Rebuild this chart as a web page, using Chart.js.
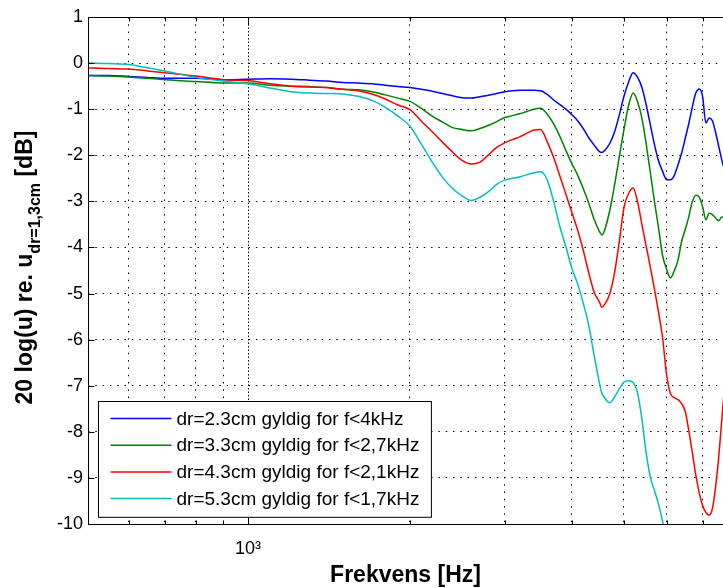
<!DOCTYPE html>
<html>
<head>
<meta charset="utf-8">
<script src="https://cdn.jsdelivr.net/npm/chart.js@4.4.0/dist/chart.umd.min.js"></script>
<style>
    html, body { margin: 0; padding: 0; background: #fff; }
    #boks { width: 723px; height: 588px; overflow: hidden; }
</style>
</head>
<body>
<div id="boks"><canvas id="graf" width="723" height="588"></canvas></div>
<script>
// frekvenser [Hz] og niveau [dB] for de fire afstande
const frekvenser = [504, 550, 600, 650, 700, 800, 900, 1000,
    1100, 1200, 1300, 1400, 1500, 1600, 1700, 1800, 1900, 2000,
    2100, 2200, 2300, 2400, 2500, 2600, 2700, 2800, 2900, 3000,
    3100, 3200, 3300, 3400, 3500, 3600, 3700, 3800, 3900, 4000,
    4100, 4200, 4300, 4400, 4500, 4550, 4600, 4700, 4800, 4900, 5000,
    5100, 5200, 5300, 5400, 5500, 5600, 5700, 5800, 5900, 6000,
    6100, 6200, 6300, 6400, 6500, 6600, 6700, 6800, 6900, 7000,
    7100, 7200, 7300, 7400, 7500, 7600, 7700];

const dr23 = [-0.27, -0.27, -0.29, -0.31, -0.33, -0.33, -0.36, -0.35,
    -0.34, -0.35, -0.37, -0.39, -0.42, -0.43, -0.45, -0.48, -0.51, -0.53,
    -0.57, -0.61, -0.66, -0.71, -0.75, -0.76, -0.73, -0.7, -0.66, -0.62,
    -0.6, -0.59, -0.59, -0.59, -0.6, -0.68, -0.8, -0.9, -1.0, -1.12,
    -1.25, -1.42, -1.62, -1.78, -1.92, -1.94, -1.9, -1.75, -1.5, -1.13, -0.72,
    -0.41, -0.21, -0.31, -0.53, -0.91, -1.35, -1.78, -2.13, -2.35, -2.53,
    -2.53, -2.44, -2.21, -1.95, -1.63, -1.31, -0.95, -0.65, -0.56, -0.72,
    -1.3, -1.19, -1.25, -1.5, -1.8, -2.1, -2.35];

const dr33 = [-0.27, -0.28, -0.3, -0.33, -0.36, -0.4, -0.43, -0.43,
    -0.48, -0.5, -0.51, -0.53, -0.57, -0.58, -0.62, -0.69, -0.76, -0.83,
    -0.98, -1.15, -1.28, -1.4, -1.44, -1.47, -1.42, -1.35, -1.27, -1.18,
    -1.14, -1.1, -1.05, -1.0, -0.98, -1.11, -1.32, -1.59, -1.9, -2.18,
    -2.43, -2.72, -3.04, -3.39, -3.65, -3.73, -3.63, -3.22, -2.66, -2.04, -1.44,
    -0.92, -0.65, -0.84, -1.2, -1.76, -2.39, -3.02, -3.59, -4.18, -4.47,
    -4.66, -4.51, -4.28, -3.87, -3.61, -3.33, -3.01, -2.87, -2.91, -3.11,
    -3.4, -3.26, -3.29, -3.36, -3.42, -3.34, -3.35];

const dr43 = [-0.1, -0.12, -0.13, -0.17, -0.21, -0.28, -0.36, -0.38,
    -0.45, -0.5, -0.52, -0.53, -0.57, -0.6, -0.67, -0.78, -0.91, -1.01,
    -1.26, -1.49, -1.72, -1.93, -2.11, -2.19, -2.15, -1.99, -1.83, -1.73,
    -1.66, -1.6, -1.52, -1.45, -1.44, -1.71, -2.05, -2.45, -2.85, -3.24,
    -3.62, -4.06, -4.55, -4.97, -5.18, -5.3, -5.24, -5.02, -4.56, -3.88, -3.13,
    -2.83, -2.71, -3.01, -3.51, -3.98, -4.44, -4.92, -5.42, -5.97, -6.76,
    -7.17, -7.26, -7.3, -7.39, -7.56, -7.98, -8.45, -8.94, -9.32, -9.6,
    -9.75, -9.81, -9.67, -9.2, -8.56, -7.74, -6.95];

// dr=5.3cm går under -10 dB efter ca. 6 kHz
const dr53 = [0.0, -0.01, -0.03, -0.1, -0.17, -0.31, -0.39, -0.45,
    -0.54, -0.62, -0.65, -0.66, -0.67, -0.72, -0.81, -0.96, -1.15, -1.37,
    -1.76, -2.15, -2.48, -2.72, -2.88, -2.98, -2.91, -2.79, -2.63, -2.54,
    -2.5, -2.47, -2.42, -2.38, -2.36, -2.54, -3.0, -3.55, -3.99, -4.45,
    -4.79, -5.21, -5.69, -6.34, -6.93, -7.17, -7.26, -7.37, -7.25, -7.07, -6.92,
    -6.89, -6.93, -7.16, -7.73, -8.47, -8.99, -9.28, -9.58, -9.95, -10.35,
    -10.7];

const etiketter = ['dr=2.3cm gyldig for f<4kHz', 'dr=3.3cm gyldig for f<2,7kHz',
    'dr=4.3cm gyldig for f<2,1kHz', 'dr=5.3cm gyldig for f<1,7kHz'];
const farver = ['rgb(0,0,255)', 'rgb(0,128,0)', 'rgb(255,0,0)', 'rgb(0,191,191)'];

const xGitter = [600, 700, 800, 900, 1000, 2000, 3000, 4000, 5000, 6000, 7000];
const yTicks = [-10, -9, -8, -7, -6, -5, -4, -3, -2, -1, 0, 1];

const skrift = '"Liberation Sans", Arial, Helvetica, sans-serif';
Chart.defaults.font.family = skrift;
Chart.defaults.color = '#000';

function punkter(serie) {
    const ud = [];
    for (let i = 0; i < serie.length; i++) {
        ud.push({ x: frekvenser[i], y: serie[i] });
    }
    return ud;
}

// y-aksens titel med subscript
const yTitel = {
    id: 'yTitel',
    afterDraw: (chart) => {
        const { ctx, chartArea } = chart;
        const stor = 'bold 23px ' + skrift;
        const lille = 'bold 16px ' + skrift;
        const dele = [['20 log(u) re. u', stor, 0], ['dr=1,3cm', lille, 8], [' [dB]', stor, 0]];
        ctx.save();
        let total = 0;
        const bredder = dele.map(d => { ctx.font = d[1]; const w = ctx.measureText(d[0]).width; total += w; return w; });
        ctx.translate(32, (chartArea.top + chartArea.bottom) / 2 - 3);
        ctx.rotate(-Math.PI / 2);
        ctx.fillStyle = '#000';
        ctx.textBaseline = 'alphabetic';
        let x = -total / 2;
        dele.forEach((d, i) => {
            ctx.font = d[1];
            ctx.fillText(d[0], x, d[2]);
            x += bredder[i];
        });
        ctx.restore();
    }
};

// ramme og indvendige tick-mærker
const ramme = {
    id: 'ramme',
    afterDraw: (chart) => {
        const { ctx, chartArea: a, scales } = chart;
        const L = Math.round(a.left) + 0.5;
        const T = Math.round(a.top) + 0.5;
        const B = Math.round(a.bottom) + 0.5;
        const R = a.right;
        ctx.save();
        ctx.strokeStyle = '#000';
        ctx.lineWidth = 1;
        ctx.beginPath();
        ctx.moveTo(R, T); ctx.lineTo(L, T); ctx.lineTo(L, B); ctx.lineTo(R, B);
        scales.y.ticks.forEach(t => {
            const py = Math.round(scales.y.getPixelForValue(t.value)) + 0.5;
            ctx.moveTo(L, py); ctx.lineTo(L + 6, py);
        });
        scales.x.ticks.forEach(t => {
            const px = Math.round(scales.x.getPixelForValue(t.value)) + 0.5;
            const len = t.value === 1000 ? 8 : 4;
            ctx.moveTo(px, B); ctx.lineTo(px, B - len);
            ctx.moveTo(px, T); ctx.lineTo(px, T + len);
        });
        ctx.stroke();
        ctx.restore();
    }
};

// forklaringsboks nederst til venstre
const forklaring = {
    id: 'forklaring',
    afterDraw: (chart) => {
        const { ctx, chartArea: a } = chart;
        const sets = chart.data.datasets;
        ctx.save();
        ctx.font = '19px ' + skrift;
        const tekstW = Math.max(...sets.map(d => ctx.measureText(d.label).width));
        const raekke = 26.7;
        const w = 78 + tekstW + 12;
        const h = sets.length * raekke + 9;
        const left = Math.round(a.left + 10) + 0.5;
        const top = Math.round(a.bottom - 7 - h) + 0.5;
        ctx.fillStyle = '#fff';
        ctx.fillRect(left, top, w, h);
        ctx.strokeStyle = '#000';
        ctx.lineWidth = 1;
        ctx.strokeRect(left, top, w, h);
        ctx.textBaseline = 'middle';
        sets.forEach((d, i) => {
            const cy = top + 17 + i * raekke;
            ctx.strokeStyle = d.borderColor;
            ctx.lineWidth = 1.5;
            ctx.beginPath();
            ctx.moveTo(left + 12, cy);
            ctx.lineTo(left + 73, cy);
            ctx.stroke();
            ctx.fillStyle = '#000';
            ctx.fillText(d.label, left + 78, cy + 1);
        });
        ctx.restore();
    }
};

const serier = [dr23, dr33, dr43, dr53];
const datasets = serier.map((s, i) => ({
    label: etiketter[i],
    data: punkter(s),
    borderColor: farver[i],
    backgroundColor: farver[i],
    borderWidth: 1.5,
    pointRadius: 0,
    cubicInterpolationMode: 'monotone',
    fill: false,
    order: serier.length - i
}));

const ctx = document.getElementById('graf').getContext('2d');
const graf = new Chart(ctx, {
    type: 'line',
    data: { datasets: datasets },
    options: {
        responsive: false,
        animation: false,
        events: [],
        layout: { padding: { top: 17, right: 0, bottom: 0, left: 0 } },
        plugins: {
            legend: { display: false },
            tooltip: { enabled: false }
        },
        scales: {
            x: {
                type: 'logarithmic',
                min: 504,
                max: 7640,
                afterBuildTicks: (s) => { s.ticks = xGitter.map(v => ({ value: v })); },
                afterFit: (s) => { s.height = 64; },
                grid: { color: '#000', lineWidth: 1, drawTicks: false },
                border: {
                    display: false,
                    dash: (c) => (c.tick && c.tick.value === 1000) ? [1.5, 2] : [1.5, 5.8]
                },
                ticks: {
                    autoSkip: false,
                    maxRotation: 0,
                    padding: 14,
                    color: '#000',
                    font: { size: 18 },
                    callback: (v) => v === 1000 ? '10³' : ''
                },
                title: {
                    display: true,
                    text: 'Frekvens [Hz]',
                    color: '#000',
                    font: { size: 23, weight: 'bold' },
                    padding: { top: 0, bottom: -1 }
                }
            },
            y: {
                min: -10,
                max: 1,
                afterBuildTicks: (s) => { s.ticks = yTicks.map(v => ({ value: v })); },
                afterFit: (s) => { s.width = 88; },
                grid: { color: '#000', lineWidth: 1, drawTicks: false },
                border: { display: false, dash: [1.5, 5.8] },
                ticks: { padding: 5, color: '#000', font: { size: 18 } }
            }
        }
    },
    plugins: [yTitel, ramme, forklaring]
});
</script>
</body>
</html>
